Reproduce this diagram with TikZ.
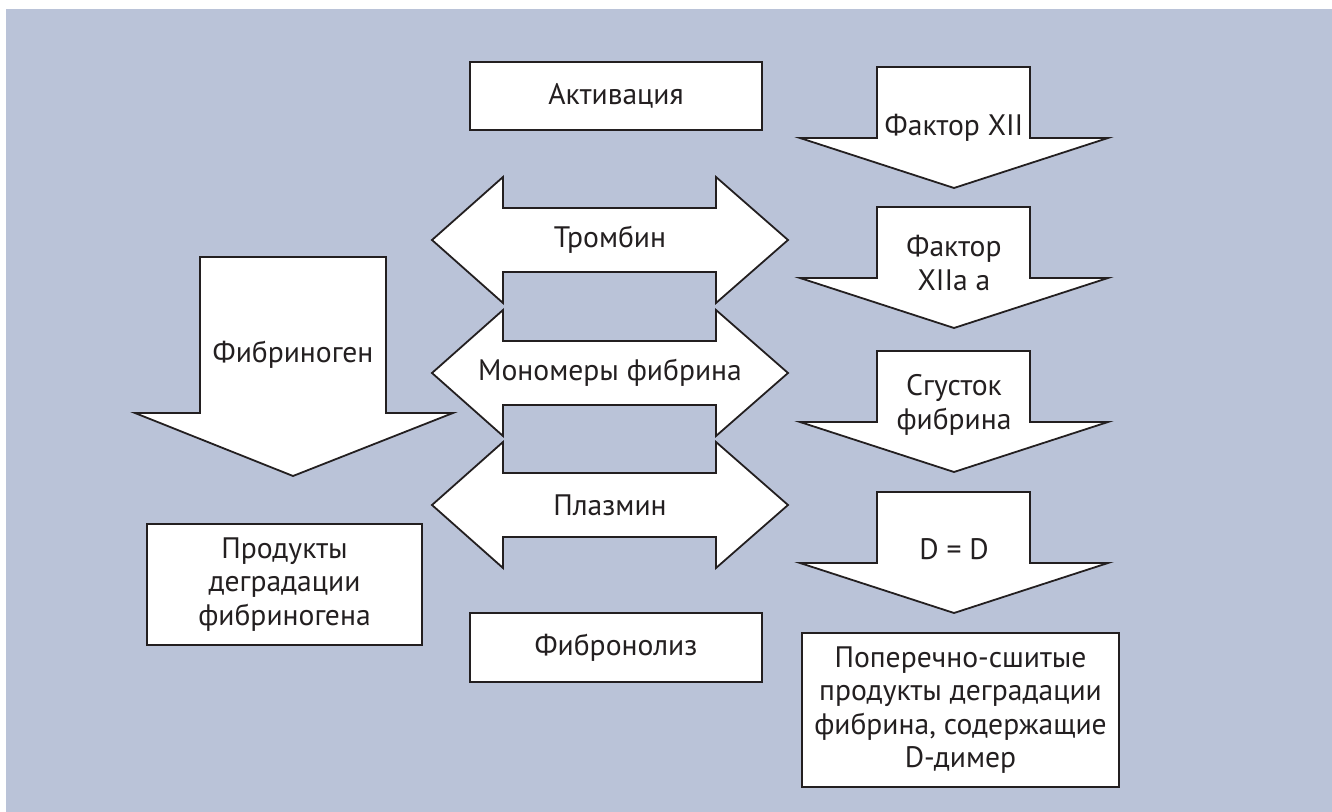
\documentclass[tikz,border=0pt]{standalone}
\usepackage{fontspec}
\setmainfont{PT Sans}
\definecolor{bgblue}{HTML}{BAC3D8}
\definecolor{ink}{HTML}{231F20}

\begin{document}
\begin{tikzpicture}[x=0.5pt,y=-0.5pt]
    \tikzstyle{box}=[draw=ink,fill=white,line width=1pt,align=center,text=ink,font=\fontsize{14.8}{16.7}\selectfont]
    \tikzstyle{label}=[align=center,text=ink,font=\fontsize{14.8}{16.7}\selectfont]
    \tikzstyle{blockarrow}=[draw=ink,fill=white,line width=0.9pt,line join=miter]

    \useasboundingbox (0,0) rectangle (1332,812);
    \fill[bgblue] (6,9) rectangle (1332,812);

    % right column, arrows going down
    \foreach \t in {67,207,351,492}
        \draw[blockarrow] (877,\t) -- (1030,\t) -- (1030,\t+71) -- (1108,\t+71)
            -- (954,\t+121) -- (800,\t+71) -- (877,\t+71) -- cycle;

    % middle column, double arrows
    \foreach \c in {240,373,505}
        \draw[blockarrow] (432,\c) -- (503,\c-63) -- (503,\c-32) -- (716,\c-32)
            -- (716,\c-63) -- (788,\c) -- (716,\c+63) -- (716,\c+32)
            -- (503,\c+32) -- (503,\c+63) -- cycle;

    % left arrow
    \draw[blockarrow] (200,257) -- (386,257) -- (386,413) -- (453,413)
        -- (293,476) -- (135,413) -- (200,413) -- cycle;

    \node[box,minimum width=146pt,minimum height=34pt]  (aktiv) at (616,96) {Активация};
    \node[box,minimum width=146pt,minimum height=34.5pt]  (fibronoliz) at (616,647.5) {Фибронолиз};
    \node[box,minimum width=137.5pt,minimum height=60.5pt]  (produkty) at (284.5,584.5) {Продукты\\деградации\\фибриногена};
    \node[box,minimum width=158.5pt,minimum height=77pt]  (dimer) at (960.5,710) {Поперечно-сшитые\\продукты деградации\\фибрина, содержащие\\D-димер};

    \node[label]  (f12) at (954,128) {Фактор XII};
    \node[label]  (f12a) at (954,263) {Фактор\\XIIa a};
    \node[label]  (sgustok) at (954,405) {Сгусток\\фибрина};
    \node[label]  (dd) at (954,549) {D = D};

    \node[label]  (trombin) at (610,240) {Тромбин};
    \node[label]  (monomer) at (610,373) {Мономеры фибрина};
    \node[label]  (plazmin) at (610,505) {Плазмин};

    \node[label]  (fibrinogen) at (293,355) {Фибриноген};
\end{tikzpicture}
\end{document}
